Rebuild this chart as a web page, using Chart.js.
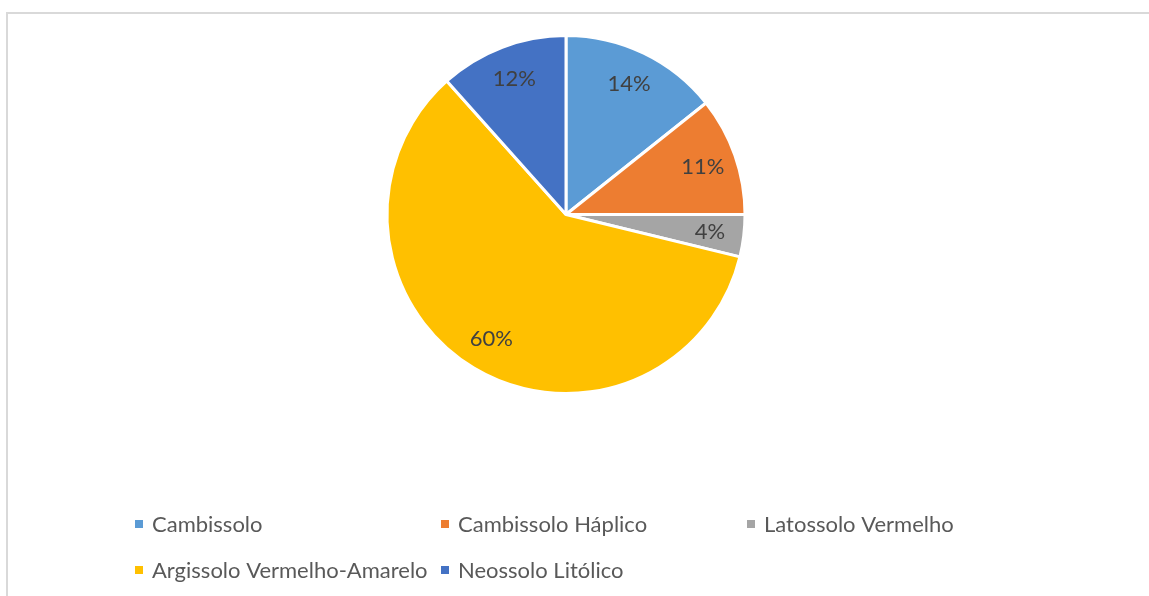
<!DOCTYPE html>
<html>
<head>
<meta charset="utf-8">
<script src="https://cdn.jsdelivr.net/npm/chart.js@4"></script>
<style>
  html, body { margin: 0; padding: 0; background: #fff; overflow: hidden; }
  #frame {
    position: absolute; left: 6px; top: 12px; width: 1200px; height: 640px;
    border: 2px solid #d9d9d9; box-sizing: border-box;
  }
  #wrap { position: absolute; left: 0; top: 0; width: 1149px; height: 596px; }
</style>
</head>
<body>
<div id="frame"></div>
<div id="wrap"><canvas id="pieChart"></canvas></div>
<script>
// ===== DATA =====
const soilLabels = ["Cambissolo", "Cambissolo Háplico", "Latossolo Vermelho", "Argissolo Vermelho-Amarelo", "Neossolo Litólico"];
const soilShares = [14.3, 10.7, 3.8, 59.6, 11.6];
const soilColors = ["#5B9BD5", "#ED7D31", "#A5A5A5", "#FFC000", "#4472C4"];

const FONT = "Lato, 'Open Sans', sans-serif";

// ===== PLUGINS =====
// percent labels inside each slice
const sliceLabels = {
  id: "sliceLabels",
  afterDatasetsDraw(chart) {
    const ctx = chart.ctx;
    const meta = chart.getDatasetMeta(0);
    const total = soilShares.reduce((a, b) => a + b, 0);
    ctx.save();
    ctx.font = "22px " + FONT;
    ctx.fillStyle = "#404040";
    ctx.textAlign = "center";
    ctx.textBaseline = "middle";
    meta.data.forEach((arc, i) => {
      const p = arc.getProps(["x", "y", "startAngle", "endAngle", "outerRadius"], true);
      const mid = (p.startAngle + p.endAngle) / 2;
      const r = p.outerRadius * 0.81;
      const txt = Math.round(soilShares[i] / total * 100) + "%";
      ctx.fillText(txt, p.x + Math.cos(mid) * r, p.y + Math.sin(mid) * r);
    });
    ctx.restore();
  }
};

// excel-style legend in fixed columns
const gridLegend = {
  id: "gridLegend",
  afterDraw(chart) {
    const ctx = chart.ctx;
    const cols = 3, colW = 306, x0 = 135, y0 = 524, rowH = 46;
    ctx.save();
    ctx.font = "22px " + FONT;
    ctx.textBaseline = "middle";
    soilLabels.forEach((lab, i) => {
      const x = x0 + (i % cols) * colW;
      const y = y0 + Math.floor(i / cols) * rowH;
      ctx.fillStyle = soilColors[i];
      ctx.fillRect(x, y - 4, 8, 8);
      ctx.fillStyle = "#595959";
      ctx.fillText(lab, x + 17, y + 1);
    });
    ctx.restore();
  }
};

// ===== CHART =====
const ctx = document.getElementById("pieChart").getContext("2d");
new Chart(ctx, {
  type: "pie",
  data: {
    labels: soilLabels,
    datasets: [{
      data: soilShares,
      backgroundColor: soilColors,
      borderColor: "#ffffff",
      borderWidth: 3
    }]
  },
  options: {
    responsive: true,
    maintainAspectRatio: false,
    animation: false,
    layout: { padding: { left: 0, right: 17, top: 34, bottom: 201 } },
    plugins: {
      legend: { display: false },
      tooltip: { enabled: false }
    }
  },
  plugins: [sliceLabels, gridLegend]
});
</script>
</body>
</html>
